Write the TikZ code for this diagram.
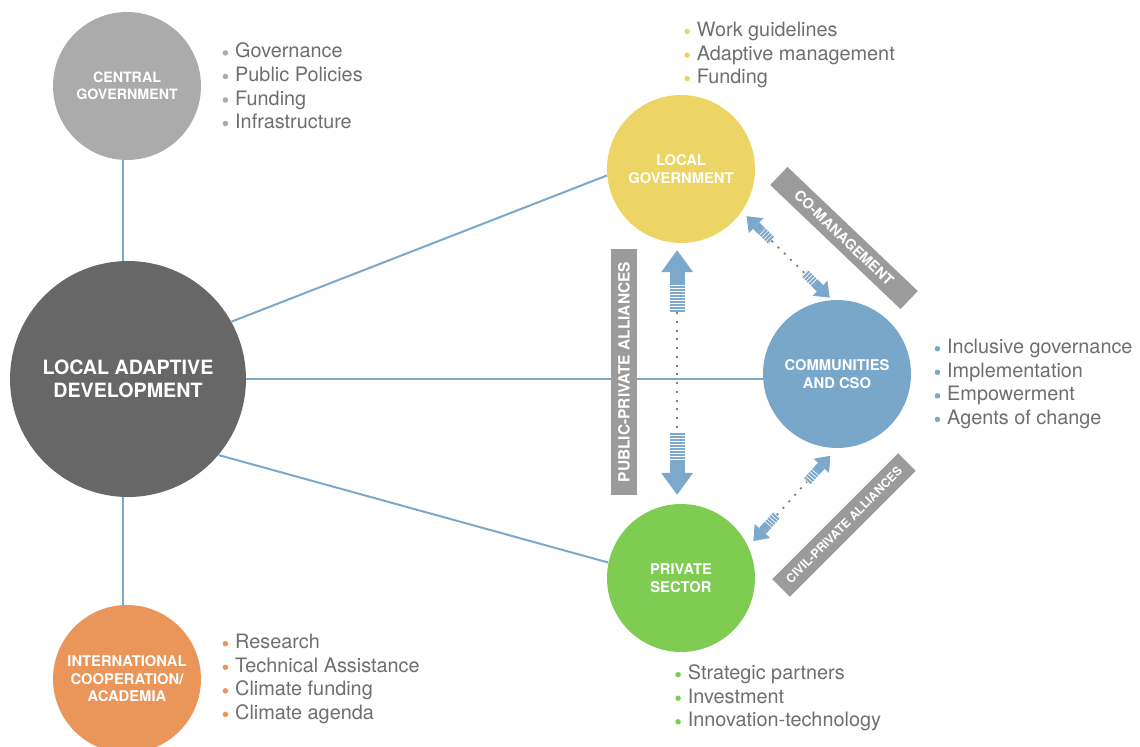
\documentclass[tikz,border=0pt]{standalone}
\usepackage{fontspec}
\setmainfont{TeX Gyre Heros}
\usetikzlibrary{positioning}
\usetikzlibrary{calc}
\usetikzlibrary{arrows.meta}
\definecolor{cgray}{HTML}{ABABAB}
\definecolor{dgray}{HTML}{676767}
\definecolor{orange}{HTML}{EA965A}
\definecolor{yellow}{HTML}{EDD565}
\definecolor{blue}{HTML}{78A7C9}
\definecolor{green}{HTML}{7ECC52}
\definecolor{boxgray}{HTML}{9B9B9B}
\definecolor{textgray}{HTML}{6E6E6E}
\definecolor{linkblue}{HTML}{7BA8CB}
\definecolor{dotgray}{HTML}{7F7F7F}
\tikzset{
	actor/.style={circle, minimum size=2.96cm, inner sep=0pt, text=white, align=center, font=\fontsize{8.4}{10}\selectfont\bfseries},
	link/.style={linkblue, line width=0.04cm},
	band/.style={fill=boxgray, text=white, minimum height=0.52cm, inner sep=0pt, font=\fontsize{8.8}{10}\selectfont\bfseries},
	items/.style={anchor=west, inner sep=0pt, align=left, text=textgray, font=\fontsize{11.3}{13.4}\selectfont},
	dots/.style={dotgray, line width=0.035cm, dash pattern=on 0.04cm off 0.135cm}
}
\newcommand{\itm}[2]{\raisebox{1.3pt}{\tikz\fill[#1] (0,0) circle (0.055cm);}\hspace{4pt}#2}
% double arrow: tips, head width, head length, shaft width, solid end, striped end
\newcommand{\alliance}[7]{%
	\foreach \p/\q in {#1/#2,#2/#1}{
		\draw[line width=#5, linkblue, -{Triangle[width=#3,length=#4,line width=0pt]}] ($(\p)!#6!(\q)$) -- (\p);
		\draw[line width=#5, linkblue, dash pattern=on 0.04cm off 0.02cm] ($(\p)!#6!(\q)$) -- ($(\p)!#7!(\q)$);
	}
	\draw[dots] ($(#1)!#7!(#2)$) -- ($(#2)!#7!(#1)$);
}

\begin{document}
\begin{tikzpicture}[x=0.02cm, y=-0.02cm]
	\useasboundingbox (0,0) rectangle (1140,747);
	
	% Actors
	\node (lad) [actor, fill=dgray, minimum size=4.72cm, font=\fontsize{11.2}{13.2}\selectfont\bfseries] at (128,379) {LOCAL ADAPTIVE\\DEVELOPMENT};
	\node (cg) [actor, fill=cgray, font=\fontsize{8.1}{9.4}\selectfont\bfseries] at (127,86) {CENTRAL\\GOVERNMENT};
	\node (ic) [actor, fill=orange] at (127,679) {INTERNATIONAL\\COOPERATION/\\ACADEMIA};
	\node (lg) [actor, fill=yellow] at (681,169) {LOCAL\\GOVERNMENT};
	\node (cso) [actor, fill=blue] at (837,374) {COMMUNITIES\\AND CSO};
	\node (ps) [actor, fill=green] at (681,578) {PRIVATE\\SECTOR};
	
	% Roles
	\node (cgl) [items, right = 0.42cm of cg] {\itm{cgray}{Governance}\\\itm{cgray}{Public Policies}\\\itm{cgray}{Funding}\\\itm{cgray}{Infrastructure}};
	\node (icl) [items, right = 0.42cm of ic] {\itm{orange}{Research}\\\itm{orange}{Technical Assistance}\\\itm{orange}{Climate funding}\\\itm{orange}{Climate agenda}};
	\node (lgl) [items] at (684,55) {\itm{yellow}{Work guidelines}\\\itm{yellow}{Adaptive management}\\\itm{yellow}{Funding}};
	\node (csol) [items, right = 0.46cm of cso, yshift=-0.2cm] {\itm{blue}{Inclusive governance}\\\itm{blue}{Implementation}\\\itm{blue}{Empowerment}\\\itm{blue}{Agents of change}};
	\node (psl) [items] at (675,698) {\itm{green}{Strategic partners}\\\itm{green}{Investment}\\\itm{green}{Innovation-technology}};
	
	% Links
	\draw[link] (cg.-93) -- (cg.-93 |- lad.north);
	\draw[link] (cg.-93 |- lad.south) -- (cg.-93 |- ic.north);
	\draw[link] (lad.29) -- (lg.185);
	\draw[link] (lad.0) -- (lad.0 -| cso.west);
	\draw[link] (lad.-40) -- (ps.168);
	
	% Alliances
	\node (ppa) [band, minimum width=4.92cm, rotate=90] at (624,372) {PUBLIC-PRIVATE ALLIANCES};
	\node (com) [band, minimum width=3.6cm, minimum height=0.5cm, rotate=-43.6, font=\fontsize{8.2}{10}\selectfont\bfseries] at (844,238) {CO-MANAGEMENT};
	\node (cpa) [band, minimum width=3.56cm, minimum height=0.5cm, rotate=45, font=\fontsize{6.9}{8}\selectfont\bfseries] at (844,525) {CIVIL-PRIVATE ALLIANCES};
	
	\coordinate (pp1) at ($(lg.-93)!0.14cm!(ps.93)$);
	\coordinate (pp2) at ($(ps.93)!0.18cm!(lg.-93)$);
	\coordinate (cm1) at ($(lg.-35)!0.13cm!(cso.94)$);
	\coordinate (cm2) at ($(cso.94)!0.06cm!(lg.-35)$);
	\coordinate (cp1) at ($(ps.25)!0.15cm!(cso.-90)$);
	\coordinate (cp2) at ($(cso.-90)!0.2cm!(ps.25)$);
	
	\alliance{pp1}{pp2}{0.64cm}{0.44cm}{0.3cm}{0.66cm}{1.24cm}
	\alliance{cm1}{cm2}{0.42cm}{0.27cm}{0.18cm}{0.4cm}{0.7cm}
	\alliance{cp1}{cp2}{0.42cm}{0.27cm}{0.18cm}{0.4cm}{0.7cm}
	
\end{tikzpicture}
\end{document}
